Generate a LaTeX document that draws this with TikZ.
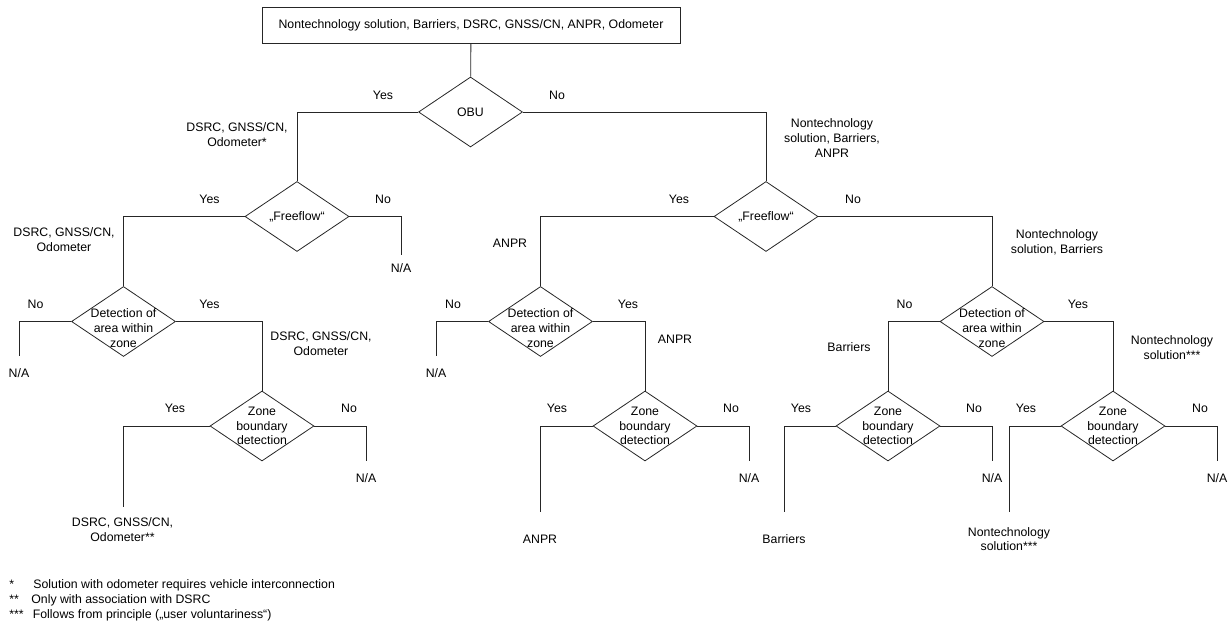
\documentclass[tikz,border=0pt]{standalone}
\usepackage{fontspec}
\setmainfont{Liberation Sans}
\usetikzlibrary{shapes.geometric}
\begin{document}
\begin{tikzpicture}[x=1pt,y=-1pt,
  every node/.style={font=\fontsize{12.3}{14.7}\selectfont, inner sep=0pt, align=center},
  dia/.style={draw, diamond, minimum width=104pt, minimum height=70pt, inner sep=0pt},
  topbox/.style={draw, minimum width=418pt, minimum height=36pt},
  conn/.style={draw=black!85, line width=0.8pt}]
\useasboundingbox (0,0) rectangle (1231,623);
\tikzset{every path/.style={line width=0.8pt, draw=black!85}}
% nodes
\node[topbox] (top) at (471,25) {Nontechnology solution, Barriers, DSRC, GNSS/CN, ANPR, Odometer};
\node[dia] (obu) at (470.5,112) {};
\node (obut) at (obu) {OBU};
\node[dia] (ff1) at (297,216.5) {};
\node (ff1t) at (ff1) {„Freeflow“};
\node[dia] (ff2) at (766,216.5) {};
\node (ff2t) at (ff2) {„Freeflow“};
\node[dia] (det1) at (123.5,321.5) {};
\node (det1t) at (123.5,328) {Detection of\\area within\\zone};
\node[dia] (det2) at (540.5,321.5) {};
\node (det2t) at (540.5,328) {Detection of\\area within\\zone};
\node[dia] (det3) at (992,321.5) {};
\node (det3t) at (992,328) {Detection of\\area within\\zone};
\node[dia] (zb1) at (262,426) {};
\node (zb1t) at (zb1) {Zone\\boundary\\detection};
\node[dia] (zb2) at (645,426) {};
\node (zb2t) at (zb2) {Zone\\boundary\\detection};
\node[dia] (zb3) at (888,426) {};
\node (zb3t) at (zb3) {Zone\\boundary\\detection};
\node[dia] (zb4) at (1113,426) {};
\node (zb4t) at (zb4) {Zone\\boundary\\detection};
% free ends
\coordinate (e1) at (401,255);
\coordinate (e2) at (19,356);
\coordinate (e3) at (123,507);
\coordinate (e4) at (366,461);
\coordinate (e5) at (436,356);
\coordinate (e6) at (540,512);
\coordinate (e7) at (749,461);
\coordinate (e8) at (784,512);
\coordinate (e9) at (992,461);
\coordinate (e10) at (1009,512);
\coordinate (e11) at (1217.5,461);
% connectors
\draw[conn] (top) -- (obu);
\draw[conn] (obu.west) -| (ff1.north);
\draw[conn] (obu.east) -| (ff2.north);
\draw[conn] (ff1.west) -| (det1.north);
\draw[conn] (ff1.east) -| (e1);
\draw[conn] (ff2.west) -| (det2.north);
\draw[conn] (ff2.east) -| (det3.north);
\draw[conn] (det1.west) -| (e2);
\draw[conn] (det1.east) -| (zb1.north);
\draw[conn] (zb1.west) -| (e3);
\draw[conn] (zb1.east) -| (e4);
\draw[conn] (det2.west) -| (e5);
\draw[conn] (det2.east) -| (zb2.north);
\draw[conn] (zb2.west) -| (e6);
\draw[conn] (zb2.east) -| (e7);
\draw[conn] (det3.west) -| (zb3.north);
\draw[conn] (det3.east) -| (zb4.north);
\draw[conn] (zb3.west) -| (e8);
\draw[conn] (zb3.east) -| (e9);
\draw[conn] (zb4.west) -| (e10);
\draw[conn] (zb4.east) -| (e11);
% labels
\node (l1) at (383,95) {Yes};
\node (l2) at (557,95) {No};
\node (l3) at (237,134.5) {DSRC, GNSS/CN,\\Odometer*};
\node (l4) at (832,138) {Nontechnology\\solution, Barriers,\\ANPR};
\node (l5) at (209.5,199) {Yes};
\node (l6) at (383,199) {No};
\node (l7) at (64,239.5) {DSRC, GNSS/CN,\\Odometer};
\node (l8) at (401,268) {N/A};
\node (l9) at (679,199) {Yes};
\node (l10) at (853,199) {No};
\node (l11) at (510,243) {ANPR};
\node (l12) at (1057,242.5) {Nontechnology\\solution, Barriers};
\node (l13) at (35.5,304) {No};
\node (l14) at (209.5,304) {Yes};
\node (l15) at (19,373) {N/A};
\node (l16) at (321,343.5) {DSRC, GNSS/CN,\\Odometer};
\node (l17) at (175,408) {Yes};
\node (l18) at (349,408) {No};
\node (l19) at (122.5,529.5) {DSRC, GNSS/CN,\\Odometer**};
\node (l20) at (366,478) {N/A};
\node (l21) at (453,304) {No};
\node (l22) at (628,304) {Yes};
\node (l23) at (436,373) {N/A};
\node (l24) at (675,339) {ANPR};
\node (l25) at (557,408) {Yes};
\node (l26) at (731,408) {No};
\node (l27) at (540,539) {ANPR};
\node (l28) at (749,478) {N/A};
\node (l29) at (904.5,304) {No};
\node (l30) at (1078,304) {Yes};
\node (l31) at (849,347) {Barriers};
\node (l32) at (1172,347.5) {Nontechnology\\solution***};
\node (l33) at (801,408) {Yes};
\node (l34) at (974,408) {No};
\node (l35) at (784,539) {Barriers};
\node (l36) at (992,478) {N/A};
\node (l37) at (1026,408) {Yes};
\node (l38) at (1200,408) {No};
\node (l39) at (1009,539) {Nontechnology\\solution***};
\node (l40) at (1217,478) {N/A};
% footnotes
\node[anchor=base west] (f1) at (9,588) {\makebox[24pt][l]{*}Solution with odometer requires vehicle interconnection};
\node[anchor=base west] (f2) at (9,603) {\makebox[22pt][l]{**}Only with association with DSRC};
\node[anchor=base west] (f3) at (9,618) {\makebox[23.5pt][l]{***}Follows from principle („user voluntariness“)};
\end{tikzpicture}
\end{document}
